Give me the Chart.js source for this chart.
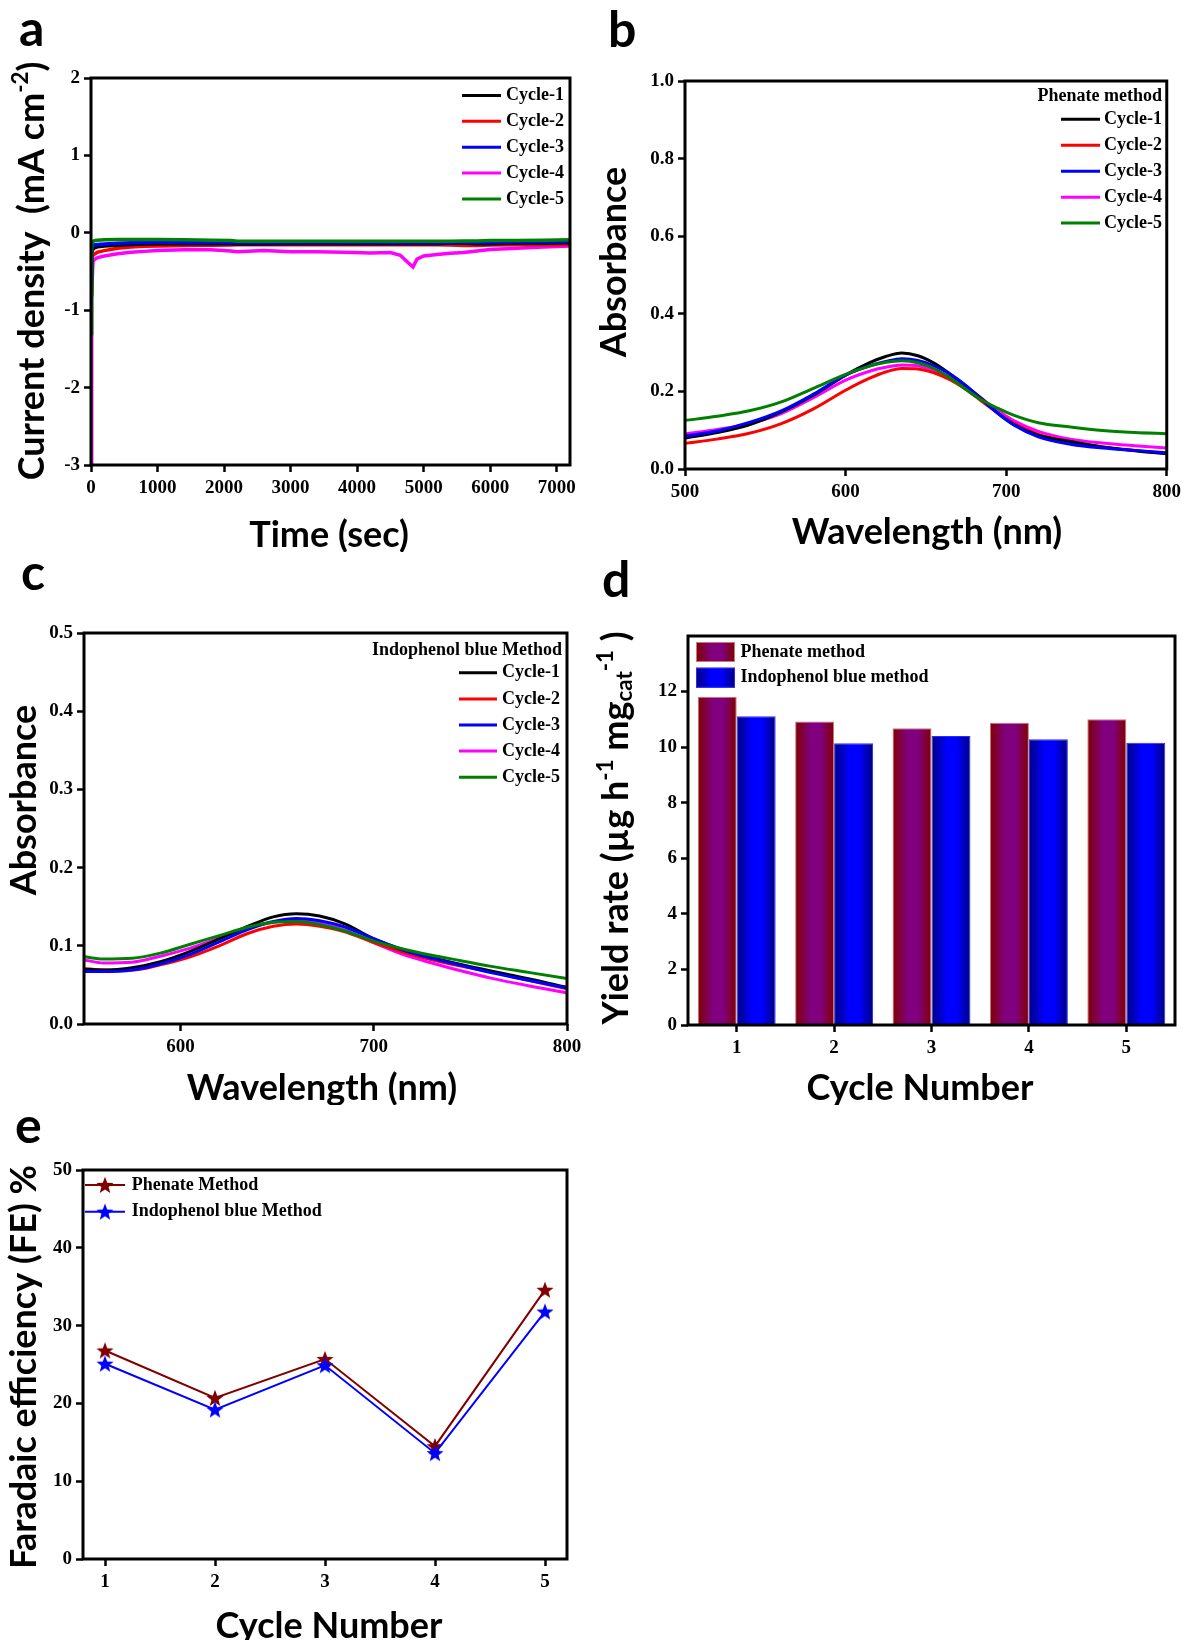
<!DOCTYPE html>
<html>
<head>
<meta charset="utf-8">
<script src="https://cdn.jsdelivr.net/npm/chart.js@4.4.1/dist/chart.umd.min.js"></script>
<style>
  body { margin: 0; background: #fff; width: 1186px; height: 1640px; position: relative; overflow: hidden; }
  canvas { position: absolute; }
</style>
</head>
<body>
<script>
// ---- data ----
const cycleLabels = ['Cycle-1', 'Cycle-2', 'Cycle-3', 'Cycle-4', 'Cycle-5'];
const cycleColors = ['#000000', '#ff0000', '#0000ff', '#ff00ff', '#008000'];
const drawOrder = [2, 3, 1, 4, 0]; // green ends up on top

// (a) current density vs time
const timeSec = [0, 10, 30, 60, 100, 200, 400, 600, 800, 1000, 1400, 1800, 2100, 2200, 2600, 3000, 3400,
  3800, 4200, 4500, 4650, 4760, 4840, 4900, 5000, 5200, 5400, 5600, 5800, 6000, 6400, 6800, 7200];
const current1 = [-0.80, -0.26, -0.21, -0.19, -0.18, -0.17, -0.16, -0.15, -0.145, -0.14, -0.14, -0.14, -0.14, -0.145, -0.145, -0.14, -0.14,
  -0.14, -0.14, -0.14, -0.14, -0.14, -0.14, -0.14, -0.14, -0.14, -0.135, -0.135, -0.14, -0.14, -0.135, -0.135, -0.13];
const current2 = [-0.75, -0.33, -0.29, -0.27, -0.25, -0.23, -0.20, -0.185, -0.175, -0.17, -0.165, -0.16, -0.158, -0.155, -0.155, -0.155, -0.155,
  -0.155, -0.155, -0.155, -0.155, -0.155, -0.155, -0.155, -0.155, -0.155, -0.158, -0.165, -0.165, -0.158, -0.155, -0.155, -0.155];
const current3 = [-0.60, -0.20, -0.17, -0.155, -0.15, -0.145, -0.135, -0.13, -0.125, -0.12, -0.125, -0.125, -0.125, -0.13, -0.13, -0.13, -0.13,
  -0.13, -0.13, -0.13, -0.13, -0.13, -0.13, -0.13, -0.13, -0.13, -0.13, -0.125, -0.125, -0.125, -0.12, -0.12, -0.115];
const current4 = [-3.00, -0.75, -0.37, -0.34, -0.32, -0.30, -0.27, -0.25, -0.24, -0.23, -0.22, -0.22, -0.235, -0.245, -0.23, -0.245, -0.245,
  -0.25, -0.26, -0.255, -0.29, -0.38, -0.44, -0.34, -0.30, -0.28, -0.265, -0.255, -0.235, -0.215, -0.20, -0.185, -0.17];
const current5 = [-1.30, -0.15, -0.11, -0.10, -0.095, -0.09, -0.088, -0.085, -0.085, -0.088, -0.09, -0.095, -0.10, -0.11, -0.11, -0.11, -0.11,
  -0.11, -0.11, -0.11, -0.11, -0.11, -0.11, -0.11, -0.11, -0.11, -0.11, -0.105, -0.105, -0.10, -0.10, -0.095, -0.09];
const timeTicks = [0, 1000, 2000, 3000, 4000, 5000, 6000, 7000];
const currentTicks = [-3, -2, -1, 0, 1, 2];

// (b) phenate method spectra
const wlPhenate = [500, 520, 540, 560, 580, 600, 615, 625, 635, 645, 655, 665, 675, 685, 695, 705, 720, 740, 760, 780, 800];
const phenate1 = [0.080, 0.094, 0.114, 0.147, 0.190, 0.242, 0.274, 0.290, 0.299, 0.292, 0.273, 0.245, 0.214, 0.180, 0.143, 0.114, 0.087, 0.071, 0.057, 0.047, 0.039];
const phenate2 = [0.066, 0.077, 0.092, 0.117, 0.155, 0.203, 0.234, 0.250, 0.259, 0.258, 0.248, 0.230, 0.205, 0.174, 0.144, 0.117, 0.089, 0.069, 0.057, 0.048, 0.040];
const phenate3 = [0.085, 0.098, 0.120, 0.150, 0.193, 0.242, 0.266, 0.277, 0.284, 0.280, 0.266, 0.245, 0.215, 0.178, 0.143, 0.113, 0.083, 0.064, 0.054, 0.048, 0.042];
const phenate4 = [0.090, 0.102, 0.117, 0.143, 0.184, 0.229, 0.252, 0.262, 0.268, 0.266, 0.254, 0.238, 0.212, 0.181, 0.150, 0.124, 0.097, 0.077, 0.067, 0.060, 0.054];
const phenate5 = [0.125, 0.136, 0.150, 0.173, 0.208, 0.244, 0.265, 0.275, 0.279, 0.274, 0.259, 0.235, 0.205, 0.177, 0.156, 0.138, 0.119, 0.108, 0.099, 0.094, 0.091];
const wlTicksB = [500, 600, 700, 800];
const absTicksB = [0, 0.2, 0.4, 0.6, 0.8, 1.0];

// (c) indophenol blue method spectra
const wlIndophenol = [550, 560, 575, 590, 605, 620, 635, 648, 660, 672, 685, 700, 715, 730, 745, 760, 780, 800];
const indo1 = [0.070, 0.069, 0.072, 0.080, 0.093, 0.109, 0.125, 0.137, 0.141, 0.138, 0.128, 0.109, 0.095, 0.085, 0.076, 0.068, 0.058, 0.047];
const indo2 = [0.071, 0.069, 0.069, 0.076, 0.086, 0.100, 0.116, 0.125, 0.128, 0.125, 0.118, 0.104, 0.092, 0.082, 0.074, 0.067, 0.056, 0.045];
const indo3 = [0.067, 0.067, 0.069, 0.077, 0.089, 0.105, 0.121, 0.131, 0.135, 0.132, 0.124, 0.109, 0.095, 0.084, 0.075, 0.066, 0.056, 0.046];
const indo4 = [0.082, 0.078, 0.079, 0.087, 0.097, 0.110, 0.123, 0.130, 0.133, 0.129, 0.120, 0.104, 0.089, 0.078, 0.068, 0.059, 0.049, 0.040];
const indo5 = [0.086, 0.083, 0.084, 0.091, 0.102, 0.113, 0.124, 0.130, 0.131, 0.127, 0.119, 0.106, 0.096, 0.088, 0.081, 0.074, 0.066, 0.058];
const wlTicksC = [600, 700, 800];
const absTicksC = [0, 0.1, 0.2, 0.3, 0.4, 0.5];

// (d) yield rate
const cycleNumbers = [1, 2, 3, 4, 5];
const yieldPhenate = [11.81, 10.92, 10.68, 10.88, 11.00];
const yieldIndophenol = [11.11, 10.14, 10.40, 10.28, 10.16];
const yieldTicks = [0, 2, 4, 6, 8, 10, 12];

// (e) faradaic efficiency
const fePhenate = [26.8, 20.7, 25.7, 14.5, 34.6];
const feIndophenol = [25.1, 19.2, 24.9, 13.6, 31.8];
const feTicks = [0, 10, 20, 30, 40, 50];

// ---- styling helpers ----
const tickFont = '"Liberation Serif", "Times New Roman", serif';
const titleFont = 'Lato, "Open Sans", sans-serif';
Chart.defaults.animation = false;
Chart.defaults.font.family = tickFont;
Chart.defaults.plugins.legend.display = false;
Chart.defaults.plugins.tooltip.enabled = false;

function place(box, plot) {
  const cv = document.createElement('canvas');
  cv.width = box.w; cv.height = box.h;
  cv.style.left = box.x + 'px'; cv.style.top = box.y + 'px';
  document.body.appendChild(cv);
  return {
    canvas: cv, origin: [box.x, box.y],
    padding: { left: 0, top: plot.t - box.y, right: box.x + box.w - plot.r, bottom: 0 },
    yWidth: plot.l - box.x,
    xHeight: box.y + box.h - plot.b
  };
}

function axis(isX, size, tickVals, fmt, extra) {
  return Object.assign({
    afterBuildTicks: tickVals ? (s => { s.ticks = tickVals.map(v => ({ value: v })); }) : undefined,
    afterFit: s => { if (isX) s.height = size; else s.width = size; },
    border: { display: false },
    grid: { drawOnChartArea: false, tickLength: 7, tickWidth: 2.5, tickColor: '#000' },
    ticks: {
      color: '#000', padding: isX ? 5 : 4, autoSkip: false, maxRotation: 0,
      font: { family: tickFont, size: 19, weight: 'bold' },
      callback: fmt
    }
  }, extra || {});
}

const framePlugin = {
  id: 'frame',
  afterDatasetsDraw(chart) {
    const a = chart.chartArea, ctx = chart.ctx;
    ctx.save();
    ctx.strokeStyle = '#000';
    ctx.lineWidth = 3;
    ctx.strokeRect(a.left, a.top, a.right - a.left, a.bottom - a.top);
    ctx.restore();
  }
};

// text with optional sup/sub parts, centred unless told otherwise
function drawRich(ctx, it) {
  const parts = it.parts || [{ t: it.text }];
  const size = it.size || 36;
  ctx.save();
  ctx.translate(it.x, it.y);
  ctx.rotate(it.rot || 0);
  ctx.fillStyle = '#000';
  ctx.textAlign = 'left';
  ctx.textBaseline = it.baseline || 'middle';
  const fonts = parts.map(p => 'bold ' + ((p.sup || p.sub) ? size * 0.62 : size) + 'px ' + titleFont);
  let total = 0;
  parts.forEach((p, i) => { ctx.font = fonts[i]; total += ctx.measureText(p.t).width; });
  let cx = it.align === 'left' ? 0 : -total / 2;
  parts.forEach((p, i) => {
    ctx.font = fonts[i];
    const dy = p.sup ? -size * 0.3 : (p.sub ? size * 0.22 : 0);
    ctx.fillText(p.t, cx, dy);
    cx += ctx.measureText(p.t).width;
  });
  ctx.restore();
}

function textLayer(origin, items) {
  return {
    id: 'textLayer',
    afterDraw(chart) {
      const ctx = chart.ctx;
      ctx.save();
      ctx.translate(-origin[0], -origin[1]);
      items.forEach(it => drawRich(ctx, it));
      ctx.restore();
    }
  };
}

// legend drawn in page coordinates, labels/colours taken from the datasets
function keyLayer(origin, o) {
  return {
    id: 'keyLayer',
    afterDraw(chart) {
      const ctx = chart.ctx;
      ctx.save();
      ctx.translate(-origin[0], -origin[1]);
      ctx.font = 'bold 18px ' + tickFont;
      ctx.textBaseline = 'middle';
      ctx.fillStyle = '#000';
      if (o.title) {
        ctx.textAlign = 'right';
        ctx.fillText(o.title, o.titleX, o.titleY);
      }
      ctx.textAlign = 'left';
      chart.data.datasets.forEach((ds, i) => {
        const y = o.y0 + i * o.dy;
        if (o.box) {
          ctx.fillStyle = o.box(ctx, i, o.x0, o.x1);
          ctx.fillRect(o.x0, y - 10, o.x1 - o.x0, 20);
          ctx.strokeStyle = ds.borderColor;
          ctx.lineWidth = 1;
          ctx.strokeRect(o.x0 + 0.5, y - 9.5, o.x1 - o.x0 - 1, 19);
        } else {
          ctx.strokeStyle = ds.borderColor;
          ctx.lineWidth = o.lineWidth;
          ctx.beginPath();
          ctx.moveTo(o.x0, y);
          ctx.lineTo(o.x1, y);
          ctx.stroke();
          if (ds.pointStyle && typeof ds.pointStyle === 'object') {
            const img = ds.pointStyle;
            ctx.drawImage(img, (o.x0 + o.x1) / 2 - img.width / 2, y - img.height / 2);
          }
        }
        ctx.fillStyle = '#000';
        ctx.fillText(ds.label, o.textX, y);
      });
      ctx.restore();
    }
  };
}

function starImage(color, size) {
  const c = document.createElement('canvas');
  c.width = c.height = size;
  const g = c.getContext('2d');
  const R = size / 2, r = R * 0.42, cx = size / 2, cy = size / 2 + R * 0.08;
  g.fillStyle = color;
  g.beginPath();
  for (let k = 0; k < 10; k++) {
    const ang = -Math.PI / 2 + k * Math.PI / 5;
    const rad = k % 2 ? r : R;
    g.lineTo(cx + rad * Math.cos(ang), cy + rad * Math.sin(ang));
  }
  g.closePath();
  g.fill();
  return c;
}

function lineSets(xs, series, width, smooth) {
  return series.map((vals, i) => ({
    label: cycleLabels[i],
    data: vals.map((v, k) => ({ x: xs[k], y: v })),
    borderColor: cycleColors[i],
    borderWidth: width,
    pointRadius: 0,
    cubicInterpolationMode: smooth ? 'monotone' : 'default',
    tension: 0,
    order: drawOrder[i]
  }));
}

const fmtInt = v => String(v);
const fmt1 = v => v.toFixed(1);

// ---- (a) ----
const pa = place({ x: 0, y: 0, w: 593, h: 552 }, { l: 91, t: 78, r: 570, b: 465 });
new Chart(pa.canvas, {
  type: 'line',
  data: { datasets: lineSets(timeSec, [current1, current2, current3, current4, current5], 3.5, false) },
  options: {
    responsive: false,
    layout: { padding: pa.padding },
    scales: {
      x: axis(true, pa.xHeight, timeTicks, fmtInt, { type: 'linear', min: 0, max: 7200 }),
      y: axis(false, pa.yWidth, currentTicks, fmtInt, { type: 'linear', min: -3, max: 2 })
    }
  },
  plugins: [framePlugin,
    keyLayer(pa.origin, { x0: 462, x1: 501, textX: 506, y0: 95.4, dy: 25.9, lineWidth: 3 }),
    textLayer(pa.origin, [
      { text: 'a', x: 19, y: 46, size: 50, align: 'left', baseline: 'alphabetic' },
      { parts: [{ t: 'Current density  (mA cm' }, { t: '-2', sup: true }, { t: ')' }], x: 32, y: 271, rot: -Math.PI / 2 },
      { text: 'Time (sec)', x: 329, y: 535 }
    ])]
});

// ---- (b) ----
const pb = place({ x: 593, y: 0, w: 593, h: 552 }, { l: 685, t: 81, r: 1169, b: 469 });
new Chart(pb.canvas, {
  type: 'line',
  data: { datasets: lineSets(wlPhenate, [phenate1, phenate2, phenate3, phenate4, phenate5], 3, true) },
  options: {
    responsive: false,
    layout: { padding: pb.padding },
    scales: {
      x: axis(true, pb.xHeight, wlTicksB, fmtInt, { type: 'linear', min: 500, max: 800 }),
      y: axis(false, pb.yWidth, absTicksB, fmt1, { type: 'linear', min: 0, max: 1 })
    }
  },
  plugins: [framePlugin,
    keyLayer(pb.origin, { title: 'Phenate method', titleX: 1162, titleY: 96.5, x0: 1061, x1: 1100, textX: 1104, y0: 119.3, dy: 25.95, lineWidth: 3 }),
    textLayer(pb.origin, [
      { text: 'b', x: 608, y: 47, size: 50, align: 'left', baseline: 'alphabetic' },
      { text: 'Absorbance', x: 614, y: 262, rot: -Math.PI / 2 },
      { text: 'Wavelength (nm)', x: 927, y: 532 }
    ])]
});

// ---- (c) ----
const pc = place({ x: 0, y: 552, w: 593, h: 553 }, { l: 84, t: 633, r: 567, b: 1024 });
new Chart(pc.canvas, {
  type: 'line',
  data: { datasets: lineSets(wlIndophenol, [indo1, indo2, indo3, indo4, indo5], 3, true) },
  options: {
    responsive: false,
    layout: { padding: pc.padding },
    scales: {
      x: axis(true, pc.xHeight, wlTicksC, fmtInt, { type: 'linear', min: 550, max: 800 }),
      y: axis(false, pc.yWidth, absTicksC, fmt1, { type: 'linear', min: 0, max: 0.5 })
    }
  },
  plugins: [framePlugin,
    keyLayer(pc.origin, { title: 'Indophenol blue Method', titleX: 562, titleY: 650.7, x0: 459, x1: 497, textX: 502, y0: 672.8, dy: 26.1, lineWidth: 3 }),
    textLayer(pc.origin, [
      { text: 'c', x: 21, y: 590, size: 50, align: 'left', baseline: 'alphabetic' },
      { text: 'Absorbance', x: 24.6, y: 800, rot: -Math.PI / 2 },
      { text: 'Wavelength (nm)', x: 322, y: 1088 }
    ])]
});

// ---- (d) ----
const barStops = [['#800000', '#800080'], ['#000080', '#0000ff']];
function stripe(ctx, side, left, width) {
  const g = ctx.createLinearGradient(left, 0, left + width, 0);
  const s = barStops[side];
  g.addColorStop(0, s[0]);
  g.addColorStop(0.4, s[1]);
  g.addColorStop(0.65, s[1]);
  g.addColorStop(1, s[0]);
  return g;
}
function barFill(side) {
  return ctx => {
    const xs = ctx.chart.scales.x;
    if (ctx.type !== 'data' || !xs) return barStops[side][1];
    const cat = xs.width / cycleNumbers.length;
    const bw = cat * 0.8 / 2;
    const left = xs.getPixelForValue(ctx.dataIndex) - bw + side * bw;
    if (!Number.isFinite(left) || !Number.isFinite(bw) || bw <= 0) return barStops[side][1];
    return stripe(ctx.chart.ctx, side, left, bw);
  };
}
const pd = place({ x: 593, y: 552, w: 593, h: 553 }, { l: 688, t: 636, r: 1175, b: 1025 });
new Chart(pd.canvas, {
  type: 'bar',
  data: {
    labels: cycleNumbers.map(String),
    datasets: [
      { label: 'Phenate method', data: yieldPhenate, backgroundColor: barFill(0), borderColor: '#c87878', borderWidth: 1,
        categoryPercentage: 0.8, barPercentage: 1.0 },
      { label: 'Indophenol blue method', data: yieldIndophenol, backgroundColor: barFill(1), borderColor: '#2a2aff', borderWidth: 1,
        categoryPercentage: 0.8, barPercentage: 1.0 }
    ]
  },
  options: {
    responsive: false,
    layout: { padding: pd.padding },
    scales: {
      x: axis(true, pd.xHeight, null, function (v) { return this.getLabelForValue(v); },
        { type: 'category', offset: true, grid: { offset: false, drawOnChartArea: false, tickLength: 7, tickWidth: 2.5, tickColor: '#000' } }),
      y: axis(false, pd.yWidth, yieldTicks, fmtInt, { type: 'linear', min: 0, max: 14 })
    }
  },
  plugins: [framePlugin,
    keyLayer(pd.origin, { box: (ctx, i, x0, x1) => stripe(ctx, i, x0, x1 - x0), x0: 696, x1: 735, textX: 740.5, y0: 652, dy: 25.7 }),
    textLayer(pd.origin, [
      { text: 'd', x: 602, y: 597, size: 50, align: 'left', baseline: 'alphabetic' },
      { parts: [{ t: 'Yield rate (\u00b5g h' }, { t: '-1', sup: true }, { t: ' mg' }, { t: 'cat', sub: true }, { t: '-1', sup: true }, { t: ' )' }],
        x: 616.6, y: 828, rot: -Math.PI / 2 },
      { text: 'Cycle Number', x: 920, y: 1088 }
    ])]
});

// ---- (e) ----
const starMaroon = starImage('#800000', 18);
const starBlue = starImage('#0000ff', 18);
const pe = place({ x: 0, y: 1105, w: 593, h: 535 }, { l: 83, t: 1170, r: 567, b: 1559 });
new Chart(pe.canvas, {
  type: 'line',
  data: {
    datasets: [
      { label: 'Phenate Method', data: cycleNumbers.map((c, i) => ({ x: c, y: fePhenate[i] })), borderColor: '#800000', borderWidth: 2,
        pointStyle: starMaroon, pointRadius: 8, order: 1 },
      { label: 'Indophenol blue Method', data: cycleNumbers.map((c, i) => ({ x: c, y: feIndophenol[i] })), borderColor: '#0000ff', borderWidth: 2,
        pointStyle: starBlue, pointRadius: 8, order: 0 }
    ]
  },
  options: {
    responsive: false,
    layout: { padding: pe.padding },
    scales: {
      x: axis(true, pe.xHeight, cycleNumbers, fmtInt, { type: 'linear', min: 0.8, max: 5.2 }),
      y: axis(false, pe.yWidth, feTicks, fmtInt, { type: 'linear', min: 0, max: 50 })
    }
  },
  plugins: [framePlugin,
    keyLayer(pe.origin, { x0: 85, x1: 125, textX: 131.7, y0: 1185, dy: 26.7, lineWidth: 2 }),
    textLayer(pe.origin, [
      { text: 'e', x: 15, y: 1143, size: 50, align: 'left', baseline: 'alphabetic' },
      { text: 'Faradaic efficiency (FE) %', x: 24.6, y: 1367, rot: -Math.PI / 2 },
      { text: 'Cycle Number', x: 329, y: 1626 }
    ])]
});
</script>
</body>
</html>
